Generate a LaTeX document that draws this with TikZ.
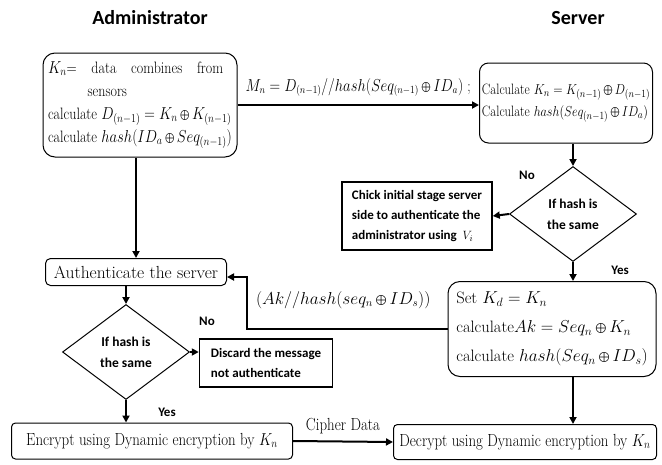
\documentclass[tikz,border=0pt]{standalone}
\usepackage{fontspec}
\usepackage{graphicx}
\newfontfamily\calib{Carlito}
\usetikzlibrary{shapes.geometric,arrows.meta}

\newcommand{\nar}[1]{\scalebox{0.85}[1]{#1}}

\tikzset{
  box/.style={draw,line width=1pt,inner sep=0pt,align=left},
  sbox/.style={draw,line width=1.5pt,inner sep=0pt,align=left,font=\calib\bfseries\fontsize{13}{20}\selectfont},
  dia/.style={draw,diamond,line width=1pt,inner sep=0pt,minimum width=127pt,minimum height=95pt,align=center,font=\calib\bfseries\fontsize{13.5}{21}\selectfont},
  ttl/.style={font=\calib\bfseries\fontsize{20}{22}\selectfont},
  lbl/.style={font=\calib\bfseries\fontsize{13}{15}\selectfont},
  flow/.style={->,line width=2pt}
}

\begin{document}
\begin{tikzpicture}[x=1pt,y=-1pt,>={Triangle[length=7pt,width=7pt]}]
\useasboundingbox (0,0) rectangle (662,464);
% titles
\node (TA) at (150,18) [ttl] {Administrator};
\node (TS) at (578,18) [ttl] {Server};
% administrator side
\node (Ad) at (140,105) [box,rounded corners=12pt,minimum width=194pt,minimum height=104pt,font=\fontsize{16.5}{23}\selectfont] {\nar{\makebox[206pt][s]{$K_n$= data combines from}}\\ \hspace*{2.4em}\nar{sensors}\\ \nar{calculate $D_{(n-1)}=K_n\bigoplus K_{(n-1)}$}\\ \nar{calculate $hash(ID_a\bigoplus Seq_{(n-1)})$}};
\node (Au) at (136,272) [box,rounded corners=5pt,minimum width=181pt,minimum height=27pt,font=\fontsize{17.5}{19}\selectfont] {Authenticate the server};
\node (Da) at (126,352) [dia] {If hash is\\the same};
\node (Ds) at (266,363) [sbox,minimum width=133pt,minimum height=48pt] {Discard the message\\not authenticate};
\node (En) at (152,441) [box,rounded corners=4pt,minimum width=281pt,minimum height=36pt,font=\fontsize{17.5}{19}\selectfont] {\nar{Encrypt using Dynamic encryption by $K_n$}};
% server side
\node (Sv) at (566,103) [box,rounded corners=9pt,minimum width=173pt,minimum height=80pt,font=\fontsize{15}{22}\selectfont] {\nar{Calculate $K_n=K_{(n-1)}\bigoplus D_{(n-1)}$}\\ \nar{Calculate $hash(Seq_{(n-1)}\bigoplus ID_a)$}};
\node (Dh) at (573,214) [dia] {If hash is\\the same};
\node (Ck) at (417,216) [sbox,minimum width=150pt,minimum height=68pt] {Chick initial stage server\\side to authenticate the\\administrator using \ $V_i$};
\node (St) at (552,329) [box,rounded corners=12pt,minimum width=208pt,minimum height=95pt,font=\fontsize{16.5}{29}\selectfont] {Set $K_d=K_n$\\ calculate$Ak=Seq_n\bigoplus K_n$\\ calculate $hash(Seq_n\bigoplus ID_s)$};
\node (De) at (525,442) [box,rounded corners=4pt,minimum width=263pt,minimum height=35pt,font=\fontsize{17.5}{19}\selectfont] {\nar{Decrypt using Dynamic encryption by $K_n$}};
\coordinate (Tn) at (247,0);
% connectors
\draw[flow] (Ad.east) -- (Ad.east -| Sv.west)
  node[midway,above=4pt,font=\fontsize{16}{18}\selectfont] {\nar{$M_n=D_{(n-1)}//hash(Seq_{(n-1)}\bigoplus ID_a)$ ;}};
\draw[flow] (Dh.north |- Sv.south) -- (Dh.north);
\draw[flow] (Dh.west) -- (Ck.east);
\draw[flow] (Dh.south) -- (Dh.south |- St.north);
\draw[flow] (St.west) -- (St.west -| Tn)
  node[pos=0.52,above=16pt,font=\fontsize{16}{18}\selectfont] {$(Ak//hash(seq_n\bigoplus ID_s))$}
  |- ([yshift=-5pt]Au.east);
\draw[flow] (Au.north |- Ad.south) -- (Au.north);
\draw[flow] (Da.north |- Au.south) -- (Da.north);
\draw[flow] (Da.east) -- (Da.east -| Ds.west);
\draw[flow] (Da.south) -- (Da.south |- En.north);
\draw[flow] ([xshift=21pt]St.south) -- ([xshift=21pt]St.south |- De.north);
\draw[flow] (En.east) -- (De.west)
  node[midway,above=3pt,font=\fontsize{17.5}{19}\selectfont] {\nar{Cipher Data}};
% yes / no
\node (Nd) at (527,175) [lbl] {No};
\node (Yd) at (620,270) [lbl] {Yes};
\node (Na) at (207,321) [lbl] {No};
\node (Ya) at (167,412) [lbl] {Yes};
\end{tikzpicture}
\end{document}
